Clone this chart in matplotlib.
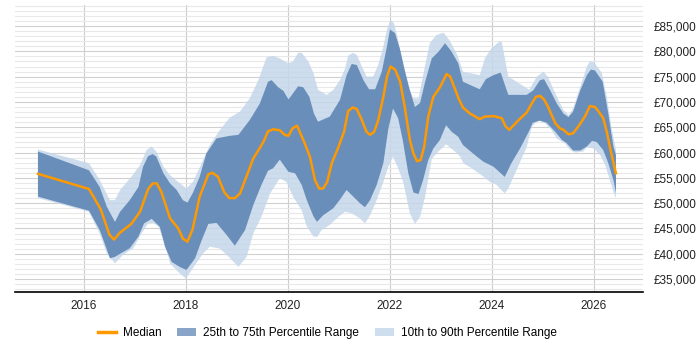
import matplotlib
matplotlib.use('Agg')
import matplotlib.pyplot as plt
from matplotlib.ticker import MultipleLocator, FuncFormatter
from matplotlib.lines import Line2D
from matplotlib.patches import Patch
import numpy as np

plt.rcParams['font.family'] = ['Liberation Sans', 'DejaVu Sans']

# median
med_x = [2015.10, 2016.10, 2016.33, 2016.50, 2016.59, 2016.71, 2016.93, 2017.10, 2017.26, 2017.35,
         2017.43, 2017.52, 2017.69, 2017.85, 2017.94, 2018.03, 2018.13, 2018.27, 2018.44, 2018.52,
         2018.63, 2018.75, 2018.85, 2018.96, 2019.06, 2019.32, 2019.52, 2019.61, 2019.71, 2019.84,
         2019.94, 2020.01, 2020.09, 2020.18, 2020.33, 2020.43, 2020.53, 2020.61, 2020.69, 2020.77,
         2020.86, 2020.99, 2021.10, 2021.18, 2021.27, 2021.35, 2021.45, 2021.54, 2021.61, 2021.69,
         2021.77, 2021.87, 2021.94, 2022.01, 2022.10, 2022.20, 2022.29, 2022.39, 2022.46, 2022.53,
         2022.60, 2022.67, 2022.75, 2022.85, 2022.98, 2023.11, 2023.18, 2023.27, 2023.34, 2023.43,
         2023.57, 2023.76, 2023.86, 2024.03, 2024.19, 2024.27, 2024.34, 2024.52, 2024.68, 2024.78,
         2024.86, 2024.94, 2025.02, 2025.10, 2025.24, 2025.33, 2025.40, 2025.50, 2025.59, 2025.71,
         2025.82, 2025.92, 2026.02, 2026.09, 2026.18, 2026.25, 2026.33, 2026.43]
med_y = [55800, 52800, 48800, 43800, 42800, 44200, 45900, 48300, 52800, 53900,
         53900, 52200, 47000, 45000, 43000, 42400, 44800, 51300, 55700, 56000,
         55200, 52200, 51000, 51000, 51900, 58800, 62100, 64200, 64600, 64400,
         63500, 63300, 64800, 65300, 61800, 59200, 54600, 52900, 52900, 54200,
         57900, 61100, 64100, 68200, 68900, 68600, 66400, 64100, 63500, 64100,
         66400, 71000, 74900, 77000, 76400, 74000, 69000, 62500, 59800, 58300,
         58500, 61100, 67100, 71000, 72900, 75500, 75000, 72700, 70800, 68900,
         67700, 66600, 67100, 67200, 66800, 65100, 64500, 66400, 67900, 69700,
         71000, 71200, 70500, 69000, 65800, 64800, 64500, 63600, 63800, 65400,
         67100, 69200, 69000, 68100, 66800, 64100, 60200, 55900]

# 75th percentile
p75_x = [2015.10, 2016.10, 2016.31, 2016.45, 2016.61, 2016.71, 2016.90, 2017.07, 2017.16, 2017.26,
         2017.35, 2017.42, 2017.56, 2017.69, 2017.82, 2017.94, 2018.03, 2018.14, 2018.27, 2018.40,
         2018.60, 2018.86, 2019.03, 2019.25, 2019.45, 2019.61, 2019.68, 2019.81, 2019.91, 2020.01,
         2020.10, 2020.20, 2020.30, 2020.42, 2020.51, 2020.59, 2020.82, 2021.02, 2021.15, 2021.25,
         2021.35, 2021.48, 2021.59, 2021.71, 2021.84, 2021.94, 2022.00, 2022.10, 2022.20, 2022.29,
         2022.39, 2022.49, 2022.59, 2022.69, 2022.82, 2022.95, 2023.08, 2023.21, 2023.34, 2023.43,
         2023.76, 2023.88, 2024.03, 2024.17, 2024.32, 2024.68, 2024.81, 2024.94, 2025.02, 2025.14,
         2025.27, 2025.40, 2025.50, 2025.59, 2025.73, 2025.86, 2025.94, 2026.02, 2026.17, 2026.28,
         2026.38, 2026.43]
p75_y = [60200, 56500, 53200, 49300, 46300, 48300, 50600, 53200, 57200, 59300,
         59700, 59200, 55900, 53900, 52600, 50600, 50100, 52100, 55200, 59800,
         62800, 63300, 63500, 66400, 69700, 74000, 74300, 72900, 72200, 70500,
         71700, 73100, 72900, 71000, 67700, 66100, 67100, 70400, 75300, 77500,
         77300, 74300, 72500, 72500, 76000, 80900, 84300, 83600, 80300, 76300,
         72300, 69000, 69800, 74000, 78600, 79900, 81600, 79900, 77600, 74000,
         72500, 74500, 75300, 75800, 71400, 71400, 72300, 74300, 74500, 72300,
         69700, 67700, 67000, 68100, 72300, 75300, 76400, 76200, 74000, 67700,
         61200, 59500]

# 25th percentile
p25_x = [2015.10, 2016.10, 2016.31, 2016.43, 2016.51, 2016.61, 2016.71, 2016.90, 2017.07, 2017.18,
         2017.33, 2017.49, 2017.59, 2017.72, 2017.88, 2018.01, 2018.18, 2018.31, 2018.44, 2018.60,
         2018.80, 2018.96, 2019.16, 2019.32, 2019.48, 2019.61, 2019.71, 2019.84, 2020.01, 2020.14,
         2020.27, 2020.37, 2020.50, 2020.57, 2020.69, 2020.89, 2021.02, 2021.15, 2021.28, 2021.41,
         2021.51, 2021.61, 2021.74, 2021.87, 2021.97, 2022.06, 2022.16, 2022.25, 2022.36, 2022.46,
         2022.56, 2022.65, 2022.75, 2022.85, 2022.98, 2023.10, 2023.21, 2023.34, 2023.43, 2023.63,
         2023.83, 2024.03, 2024.25, 2024.38, 2024.55, 2024.72, 2024.80, 2024.94, 2025.07, 2025.24,
         2025.37, 2025.46, 2025.59, 2025.73, 2025.86, 2025.96, 2026.05, 2026.18, 2026.28, 2026.38,
         2026.43]
p25_y = [51300, 48500, 44700, 41400, 39100, 39400, 40000, 41100, 43400, 46000,
         46900, 45300, 41400, 38400, 37400, 36800, 39100, 42700, 45900, 46100,
         43700, 41600, 44700, 49600, 53600, 56400, 56900, 58600, 56200, 55900,
         53600, 50600, 47400, 46300, 47600, 49000, 50700, 52600, 51300, 50000,
         49200, 50600, 53600, 57900, 64800, 68700, 66800, 62500, 55900, 52100,
         51800, 54600, 58500, 60800, 62500, 65400, 64100, 63100, 61500, 59800,
         58200, 57200, 55200, 57900, 60800, 64100, 65900, 66300, 65900, 64100,
         62500, 61900, 60400, 60400, 61200, 62300, 62100, 60500, 57900, 54600,
         52000]

# 90th percentile
p90_x = [2015.10, 2016.10, 2016.31, 2016.51, 2016.61, 2016.71, 2016.93, 2017.10, 2017.23, 2017.33,
         2017.42, 2017.56, 2017.69, 2017.85, 2018.01, 2018.14, 2018.31, 2018.47, 2018.67, 2018.86,
         2019.06, 2019.25, 2019.42, 2019.58, 2019.71, 2019.84, 2020.01, 2020.10, 2020.20, 2020.27,
         2020.40, 2020.50, 2020.59, 2020.76, 2020.89, 2021.02, 2021.12, 2021.18, 2021.27, 2021.35,
         2021.45, 2021.54, 2021.67, 2021.77, 2021.87, 2021.94, 2022.01, 2022.08, 2022.16, 2022.26,
         2022.36, 2022.46, 2022.56, 2022.65, 2022.78, 2022.91, 2023.05, 2023.18, 2023.31, 2023.43,
         2023.76, 2023.86, 2023.99, 2024.14, 2024.19, 2024.32, 2024.48, 2024.73, 2024.88, 2025.01,
         2025.10, 2025.24, 2025.40, 2025.50, 2025.59, 2025.73, 2025.86, 2025.92, 2026.00, 2026.15,
         2026.25, 2026.35, 2026.43]
p90_y = [60600, 57900, 54600, 50600, 50600, 52600, 55200, 57500, 60500, 61200,
         60200, 57200, 55500, 54200, 52900, 54200, 57900, 61500, 64500, 66900,
         68100, 70700, 74300, 78800, 79100, 78600, 77600, 78000, 79700, 79700,
         78000, 75700, 72400, 71400, 72400, 74300, 76600, 79100, 79700, 79300,
         77000, 75000, 75000, 77300, 80900, 84200, 86300, 85500, 82200, 77000,
         73000, 70700, 70700, 75300, 81600, 83200, 83700, 82000, 79500, 76000,
         75300, 78600, 80600, 81900, 81900, 75000, 74000, 72400, 75000, 76000,
         74900, 71700, 68400, 67400, 68700, 73000, 77000, 78000, 77800, 75800,
         71000, 64500, 60500]

# 10th percentile
p10_x = [2015.10, 2016.10, 2016.31, 2016.45, 2016.61, 2016.77, 2016.97, 2017.13, 2017.26, 2017.36,
         2017.46, 2017.59, 2017.69, 2017.85, 2018.00, 2018.18, 2018.34, 2018.47, 2018.67, 2018.86,
         2019.03, 2019.19, 2019.32, 2019.48, 2019.65, 2019.84, 2019.97, 2020.10, 2020.27, 2020.37,
         2020.50, 2020.57, 2020.66, 2020.82, 2020.99, 2021.12, 2021.25, 2021.41, 2021.51, 2021.61,
         2021.74, 2021.87, 2021.97, 2022.06, 2022.16, 2022.26, 2022.39, 2022.49, 2022.59, 2022.69,
         2022.82, 2022.95, 2023.10, 2023.24, 2023.37, 2023.44, 2023.60, 2023.80, 2023.96, 2024.09,
         2024.25, 2024.32, 2024.48, 2024.68, 2024.78, 2024.91, 2025.04, 2025.17, 2025.27, 2025.43,
         2025.53, 2025.63, 2025.79, 2025.86, 2025.99, 2026.12, 2026.22, 2026.31, 2026.38, 2026.43]
p10_y = [51000, 48300, 44000, 40100, 38100, 39800, 41100, 44000, 46000, 46100,
         45400, 42000, 38100, 36400, 35100, 37800, 40100, 41400, 41000, 39200,
         37400, 39400, 44000, 47300, 51900, 54900, 54200, 51300, 48600, 45400,
         43400, 43300, 44700, 45700, 47300, 48300, 48000, 47000, 46000, 47600,
         50600, 54200, 57200, 59200, 56900, 54200, 48000, 45900, 47300, 51300,
         58800, 60200, 61600, 60500, 59300, 57900, 56900, 55500, 54200, 53600,
         51900, 52900, 56500, 61100, 65100, 66400, 65800, 64400, 62800, 61800,
         60500, 60000, 60200, 61100, 60800, 59500, 57500, 54600, 52300, 51000]

year_ticks = [2016, 2018, 2020, 2022, 2024, 2026]

light_col = '#c5d7ea'
dark_col = '#5f86b5'
med_col = '#ff9900'

fig = plt.figure(figsize=(7, 3.5), dpi=100)
ax = fig.add_axes([15/700, 1-292/350, (643-15)/700, (292-5)/350])

ax.fill(np.concatenate([p90_x, p10_x[::-1]]), np.concatenate([p90_y, p10_y[::-1]]),
        color=light_col, alpha=0.85, lw=0, zorder=2)
ax.fill(np.concatenate([p75_x, p25_x[::-1]]), np.concatenate([p75_y, p25_y[::-1]]),
        color=dark_col, alpha=0.9, lw=0, zorder=3)
ax.plot(med_x, med_y, color=med_col, lw=1.8, zorder=4)

ax.set_xlim(2014.65, 2026.96)
ax.set_ylim(32450, 89150)
ax.set_xticks(year_ticks)
ax.yaxis.set_major_locator(MultipleLocator(5000))
ax.yaxis.set_minor_locator(MultipleLocator(1000))
ax.yaxis.set_major_formatter(FuncFormatter(lambda v, p: '£{:,.0f}'.format(v)))
ax.yaxis.tick_right()
ax.tick_params(axis='both', which='both', length=0, labelsize=8.5, colors='#222222')
ax.tick_params(axis='x', pad=6)
ax.tick_params(axis='y', pad=8)

ax.grid(axis='y', which='major', color='#d0d0d0', lw=0.8, zorder=1)
ax.grid(axis='y', which='minor', color='#e8e8e8', lw=0.8, zorder=1)
ax.grid(axis='x', which='major', color='#cccccc', lw=0.8, zorder=1)
ax.set_axisbelow(True)

for s in ['top', 'left', 'right']:
    ax.spines[s].set_visible(False)
ax.spines['bottom'].set_color('black')
ax.spines['bottom'].set_linewidth(1.2)

handles = [Line2D([0], [0], color=med_col, lw=2.5),
           Patch(facecolor='#88a5c8', edgecolor='none'),
           Patch(facecolor='#cfdeee', edgecolor='none')]
labels = ['Median', '25th to 75th Percentile Range', '10th to 90th Percentile Range']
fig.legend(handles, labels, loc='center', bbox_to_anchor=(327/700, 1-333/350), ncol=3,
           frameon=False, fontsize=8.5, handlelength=1.6, handletextpad=0.6, columnspacing=1.3)

fig.savefig('out.png', dpi=100)
